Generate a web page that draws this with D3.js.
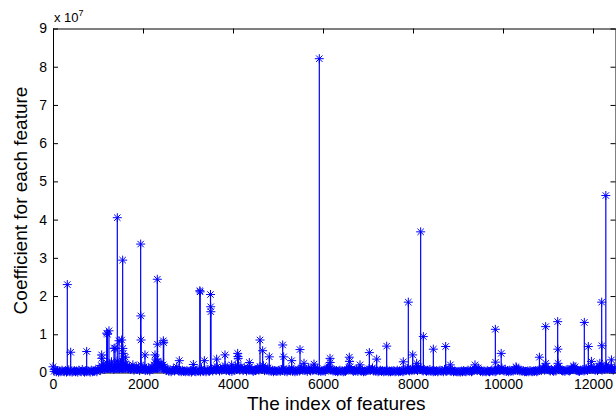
<!DOCTYPE html>
<html>
<head>
<meta charset="utf-8">
<script src="https://cdn.jsdelivr.net/npm/d3@7"></script>
<style>
  body { margin: 0; background: #fff; }
  text { font-family: "Liberation Sans", Arial, Helvetica, sans-serif; fill: #000; }
</style>
</head>
<body>
<svg id="chart" width="616" height="412"></svg>
<script>
// Axis ticks (y values are in units of 1e7)
const xTicks = [0, 2000, 4000, 6000, 8000, 10000, 12000];
const yTicks = [0, 1, 2, 3, 4, 5, 6, 7, 8, 9];

// Background coefficients, one per block of 25 features (x 1e7)
const lowStep = 25;
const lowValues = [
  0.15,0.03,0.08,0.02,0.05,0.01,0.04,0.02,0.06,0.03,0.02,0.05,0.01,0.03,0.07,0.02,0.04,0.01,0.03,0.05,
  0.02,0.04,0.01,0.06,0.03,0.02,0.08,0.03,0.01,0.04,0.02,0.05,0.03,0.01,0.06,0.02,0.04,0.03,0.07,0.02,
  0.08,0.12,0.05,0.18,0.10,0.22,0.08,0.15,0.25,0.12,0.20,0.10,0.28,0.15,0.08,0.20,0.12,0.30,0.18,0.10,
  0.25,0.15,0.30,0.20,0.12,0.22,0.18,0.10,0.15,0.08,0.12,0.20,0.06,0.10,0.15,0.08,0.12,0.05,0.20,0.10,
  0.08,0.15,0.05,0.10,0.06,0.12,0.04,0.08,0.15,0.10,0.20,0.25,0.15,0.30,0.22,0.18,0.25,0.12,0.20,0.15,
  0.10,0.05,0.08,0.03,0.06,0.02,0.05,0.10,0.04,0.08,0.15,0.06,0.03,0.05,0.02,0.06,0.03,0.04,0.02,0.05,
  0.03,0.02,0.05,0.01,0.04,0.08,0.03,0.02,0.06,0.03,0.05,0.02,0.10,0.04,0.03,0.06,0.02,0.08,0.04,0.03,
  0.06,0.10,0.04,0.08,0.12,0.05,0.15,0.08,0.04,0.10,0.06,0.12,0.08,0.18,0.05,0.10,0.06,0.04,0.08,0.03,
  0.10,0.05,0.15,0.08,0.20,0.12,0.06,0.15,0.10,0.05,0.12,0.08,0.04,0.10,0.06,0.15,0.08,0.05,0.03,0.06,
  0.05,0.08,0.12,0.06,0.15,0.10,0.08,0.18,0.05,0.10,0.06,0.12,0.04,0.08,0.03,0.06,0.02,0.05,0.04,0.03,
  0.04,0.06,0.03,0.08,0.05,0.10,0.03,0.06,0.02,0.05,0.08,0.04,0.12,0.03,0.06,0.02,0.05,0.03,0.08,0.04,
  0.08,0.12,0.06,0.10,0.05,0.08,0.03,0.12,0.06,0.04,0.10,0.05,0.08,0.12,0.06,0.10,0.04,0.06,0.03,0.05,
  0.04,0.06,0.03,0.08,0.12,0.15,0.10,0.06,0.08,0.04,0.06,0.03,0.05,0.02,0.04,0.06,0.03,0.05,0.02,0.04,
  0.03,0.06,0.08,0.12,0.15,0.08,0.05,0.03,0.06,0.04,0.08,0.03,0.10,0.05,0.03,0.06,0.02,0.04,0.03,0.05,
  0.06,0.10,0.05,0.08,0.12,0.04,0.06,0.03,0.05,0.02,0.04,0.06,0.03,0.05,0.02,0.04,0.03,0.06,0.02,0.04,
  0.02,0.04,0.03,0.05,0.02,0.03,0.06,0.02,0.04,0.03,0.05,0.02,0.04,0.08,0.05,0.10,0.06,0.04,0.08,0.05,
  0.10,0.06,0.12,0.08,0.05,0.15,0.08,0.10,0.06,0.04,0.08,0.05,0.03,0.06,0.04,0.08,0.03,0.05,0.02,0.04,
  0.03,0.05,0.02,0.04,0.06,0.03,0.05,0.02,0.08,0.04,0.03,0.05,0.10,0.04,0.03,0.06,0.02,0.04,0.03,0.02,
  0.02,0.03,0.01,0.04,0.02,0.05,0.03,0.02,0.04,0.06,0.03,0.05,0.02,0.04,0.06,0.10,0.08,0.05,0.12,0.06,
  0.03,0.05,0.02,0.04,0.03,0.02,0.05,0.03,0.02,0.04,0.06,0.03,0.05,0.02,0.04,0.08,0.10,0.05,0.06,0.12,
  0.06,0.04,0.08,0.03,0.05,0.02,0.06,0.03,0.05,0.04,0.08,0.06,0.12,0.05,0.08,0.04,0.06,0.03,0.05,0.02,
  0.03,0.02,0.04,0.02,0.05,0.03,0.02,0.04,0.03,0.05,0.02,0.04,0.06,0.08,0.05,0.10,0.12,0.06,0.15,0.08,
  0.10,0.06,0.04,0.08,0.05,0.03,0.06,0.04,0.12,0.15,0.10,0.08,0.06,0.04,0.05,0.03,0.06,0.08,0.05,0.04,
  0.06,0.10,0.08,0.12,0.15,0.06,0.05,0.04,0.03,0.06,0.05,0.08,0.04,0.06,0.10,0.05,0.12,0.08,0.15,0.10,
  0.08,0.12,0.06,0.10,0.05,0.08,0.15,0.10,0.06,0.12,0.08,0.15,0.20,0.10,0.12,0.08,0.15,0.10,0.06,0.12
];

// Individual features with larger coefficients (x 1e7)
const peakIndex = [
  318, 393, 748, 1081, 1085, 1193, 1210, 1244, 1356, 1378, 1429, 1467, 1526, 1548, 1552, 1560, 1607,
  1948, 1952, 1956, 2044, 2267, 2290, 2318, 2322, 2452, 2460, 2807, 3119, 3263, 3270, 3363,
  3500, 3504, 3508, 3637, 3822, 3970, 4104, 4110, 4115, 4363, 4600, 4659, 4807, 5104, 5126,
  5304, 5489, 5578, 5800, 5918, 6156, 6160, 6585, 6590, 6822, 7030, 7193, 7415, 7785, 7896,
  7993, 8081, 8170, 8230, 8452, 8726, 8830, 9378, 9830, 9834, 9960, 10289, 10810, 10948, 10952,
  11215, 11219, 11223, 11563, 11807, 11896, 11965, 12152, 12193, 12197, 12285, 12410
];
const peakValue = [
  2.30, 0.53, 0.55, 0.46, 0.37, 1.03, 1.00, 1.09, 0.63, 0.64, 4.05, 0.83, 0.85, 2.94, 0.63, 0.50, 0.40,
  3.36, 1.48, 0.85, 0.46, 0.46, 0.35, 2.44, 0.74, 0.83, 0.78, 0.31, 0.21, 2.14, 2.11, 0.31,
  2.04, 1.72, 1.59, 0.35, 0.46, 0.20, 0.50, 0.42, 0.37, 0.26, 0.85, 0.57, 0.41, 0.72, 0.41,
  0.31, 0.60, 0.24, 0.22, 8.21, 0.37, 0.26, 0.40, 0.29, 0.20, 0.52, 0.35, 0.69, 0.28, 1.84,
  0.46, 0.24, 3.68, 0.94, 0.61, 0.68, 0.20, 0.20, 1.13, 0.27, 0.50, 0.15, 0.40, 1.20, 0.24,
  1.33, 0.61, 0.24, 0.17, 1.31, 0.68, 0.29, 0.24, 1.84, 0.70, 4.63, 0.33
];

const svg = d3.select("#chart");
const x = d3.scaleLinear().domain([0, 12500]).range([53, 615.5]);
const y = d3.scaleLinear().domain([0, 9]).range([372.5, 28.5]);
const blue = "#0000ff";

// Box axes with inward ticks
const axisStyle = g => {
  g.select(".domain").attr("stroke", "#000").attr("stroke-width", 1);
  g.selectAll(".tick line").attr("stroke", "#000").attr("stroke-width", 1);
  g.selectAll(".tick text").attr("font-size", 14).attr("fill", "#000")
    .attr("font-family", "'Liberation Sans', Arial, Helvetica, sans-serif");
};

svg.append("g").attr("transform", `translate(0,${y(9)})`)
  .call(d3.axisTop(x).tickValues(xTicks).tickSizeInner(-5).tickSizeOuter(0).tickFormat(""))
  .call(axisStyle);
svg.append("g").attr("transform", `translate(${x(12500)},0)`)
  .call(d3.axisRight(y).tickValues(yTicks).tickSizeInner(-5).tickSizeOuter(0).tickFormat(""))
  .call(axisStyle);
svg.append("g").attr("transform", `translate(${x(0)},0)`)
  .call(d3.axisLeft(y).tickValues(yTicks).tickSizeInner(-5).tickSizeOuter(0).tickPadding(6).tickFormat(d3.format("d")))
  .call(axisStyle);
svg.append("g").attr("transform", `translate(0,${y(0)})`)
  .call(d3.axisBottom(x).tickValues(xTicks).tickSizeInner(-5).tickSizeOuter(0).tickPadding(7).tickFormat(d3.format("d")))
  .call(axisStyle);

// Exponent note for the y axis
const expo = svg.append("text").attr("x", 54).attr("y", 22).attr("font-size", 13);
expo.append("tspan").text("x 10");
expo.append("tspan").attr("dy", -6).attr("font-size", 9).text("7");

// Axis titles
svg.append("text")
  .attr("x", (x(0) + x(12500)) / 2 + 2).attr("y", 409.5)
  .attr("text-anchor", "middle").attr("font-size", 19)
  .text("The index of features");
svg.append("text")
  .attr("transform", `translate(27,${(y(0) + y(9)) / 2}) rotate(-90)`)
  .attr("text-anchor", "middle").attr("font-size", 19)
  .text("Coefficient for each feature");

// Stem data
const points = lowValues.map((v, k) => ({ i: k * lowStep, v }))
  .concat(peakIndex.map((i, k) => ({ i, v: peakValue[k] })));

const stems = svg.append("g");
stems.selectAll("line").data(points).join("line")
  .attr("x1", d => x(d.i)).attr("x2", d => x(d.i))
  .attr("y1", y(0)).attr("y2", d => y(d.v))
  .attr("stroke", blue).attr("stroke-width", 1.2);

const star = "M-4.5,0H4.5M0,-4.5V4.5M-3.2,-3.2L3.2,3.2M-3.2,3.2L3.2,-3.2";
stems.selectAll("path").data(points).join("path")
  .attr("d", star)
  .attr("transform", d => `translate(${x(d.i)},${y(d.v)})`)
  .attr("fill", "none").attr("stroke", blue).attr("stroke-width", 1);
</script>
</body>
</html>
